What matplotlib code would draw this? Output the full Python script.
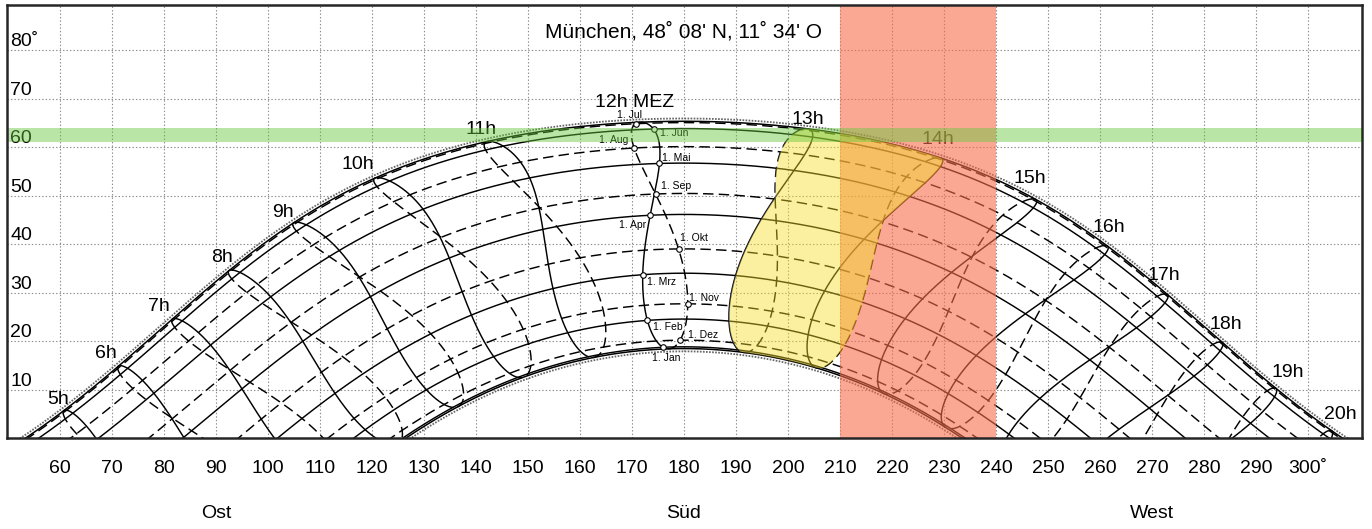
import numpy as np
import matplotlib
matplotlib.use("Agg")
import matplotlib.pyplot as plt

plt.rcParams["font.family"] = ["Liberation Sans", "DejaVu Sans"]
plt.rcParams["lines.scale_dashes"] = False

# Standort (Muenchen) und Zeitzone MEZ
lat_deg = 48 + 8 / 60
lon_deg = 11 + 34 / 60
zone_meridian = 15.0

# 1. jedes Monats als Tag im Jahr
months = ["Jan", "Feb", "Mrz", "Apr", "Mai", "Jun", "Jul", "Aug", "Sep", "Okt", "Nov", "Dez"]
month_days = [1, 32, 60, 91, 121, 152, 182, 213, 244, 274, 305, 335]
solstice_days = [172, 355]          # 21. Jun, 21. Dez
hours = list(range(5, 21))          # Stundenlinien MEZ
noon_hour = 12

x_ticks = list(range(60, 301, 10))
y_ticks = list(range(10, 81, 10))
directions = ["Ost", "Süd", "West"]
direction_az = [90, 180, 270]

red_band = [210, 240]     # Azimut
green_band = [61, 64]     # Hoehe
yellow_hours = [13, 14]   # MEZ

title = "München, 48˚ 08' N, 11˚ 34' O"

# Beschriftung der Monatspunkte auf der 12h-Linie: (dx pt, dy pt, ha)
month_label_pos = {
    "Jan": (2, -8, "center"), "Feb": (4, -5, "left"), "Mrz": (3, -5, "left"),
    "Apr": (-3, -7, "right"), "Mai": (2, 4, "left"), "Jun": (5, -3, "left"),
    "Jul": (-4, 6, "center"), "Aug": (-4, 6, "right"), "Sep": (4, 6, "left"),
    "Okt": (1, 8, "left"), "Nov": (1, 4, "left"), "Dez": (6, 4, "left"),
}

# Feinkorrektur der Stundenbeschriftung (pt)
hour_label_shift = {
    5: (5, -5), 6: (1, -3), 7: (1, -3), 8: (5, -3), 9: (1, -6), 10: (-6, -5),
    11: (-1, -7), 12: (-4, -2), 13: (-2, -9), 14: (-7, -2), 15: (-12, 1),
    16: (-9, 1), 17: (-13, 2), 18: (-8, 1), 19: (-2, -1), 20: (-3, -1),
}

DASH = (0, (7.5, 3.8))


def sun_params(day):
    g = 2 * np.pi * (np.asarray(day, dtype=float) - 1) / 365
    decl = (0.006918 - 0.399912 * np.cos(g) + 0.070257 * np.sin(g)
            - 0.006758 * np.cos(2 * g) + 0.000907 * np.sin(2 * g)
            - 0.002697 * np.cos(3 * g) + 0.00148 * np.sin(3 * g))
    eot = 229.18 * (0.000075 + 0.001868 * np.cos(g) - 0.032077 * np.sin(g)
                    - 0.014615 * np.cos(2 * g) - 0.040849 * np.sin(2 * g))
    return decl, eot


def solar_time(mez, eot):
    return mez + (lon_deg - zone_meridian) / 15 + eot / 60


def sun_pos(decl, t_solar):
    phi = np.radians(lat_deg)
    H = np.radians(15 * (t_solar - 12))
    alt = np.arcsin(np.sin(phi) * np.sin(decl) + np.cos(phi) * np.cos(decl) * np.cos(H))
    az = np.degrees(np.arctan2(np.sin(H), np.cos(H) * np.sin(phi) - np.tan(decl) * np.cos(phi))) + 180
    return az, np.degrees(alt)


def day_path(day, t):
    decl, eot = sun_params(day)
    return sun_pos(decl, solar_time(t, eot))


fig = plt.figure(figsize=(13.72, 5.29), dpi=100)
ax = fig.add_axes([7 / 1372, 91 / 529, 1355 / 1372, 433 / 529])
ax.set_xlim(49.8, 310.4)
ax.set_ylim(0, 89.3)


def normal_offset(az, alt, px):
    pts = ax.transData.transform(np.column_stack([az, alt]))
    d = np.gradient(pts, axis=0)
    n = np.column_stack([-d[:, 1], d[:, 0]])
    n /= np.hypot(n[:, 0], n[:, 1])[:, None]
    return ax.transData.inverted().transform(pts + n * px).T


# Tagesbahnen
t = np.linspace(2, 22, 900)
for d in month_days:
    az, alt = day_path(d, t)
    ls = "-" if d < 182 else DASH
    ax.plot(az, alt, color="black", lw=1.05, ls=ls, zorder=3)

for d, side in zip(solstice_days, [1, -1]):
    az, alt = day_path(d, t)
    ax.plot(az, alt, color="black", lw=1.1, zorder=3)
    oaz, oalt = normal_offset(az, alt, 2.8 * side)
    ax.plot(oaz, oalt, color="0.4", lw=1.3, ls=(0, (1.2, 1.0)), zorder=3)

# Stundenlinien (Analemma)
days = np.arange(1, 366.01, 0.25)
decl_y, eot_y = sun_params(days)
first_half = days <= 182
for h in hours:
    az, alt = sun_pos(decl_y, solar_time(h, eot_y))
    ax.plot(az[first_half], alt[first_half], color="black", lw=1.05, zorder=3)
    ax.plot(az[days >= 182], alt[days >= 182], color="black", lw=1.05, ls=DASH, zorder=3)

    # Beschriftung am 21. Juni, nach aussen versetzt
    taz, talt = day_path(solstice_days[0], np.array([h - 0.05, h, h + 0.05]))
    p = ax.transData.transform(np.column_stack([taz, talt]))
    tx, ty = p[2] - p[0]
    nrm = np.array([-ty, tx]) / np.hypot(tx, ty)
    sx, sy = hour_label_shift[h]
    label = f"{h}h MEZ" if h == noon_hour else f"{h}h"
    ax.annotate(label, (taz[1], talt[1]), xytext=(nrm[0] * 16 + sx, nrm[1] * 16 + sy),
                textcoords="offset points", ha="center", va="center",
                fontsize=14, zorder=4)

# Monatspunkte auf der 12h-Linie
for m, d in zip(months, month_days):
    az, alt = day_path(d, noon_hour)
    ax.plot(az, alt, "o", mfc="white", mec="black", ms=4, mew=0.8, zorder=4)
    dx, dy, ha = month_label_pos[m]
    ax.annotate(f"1. {m}", (az, alt), xytext=(dx, dy), textcoords="offset points",
                ha=ha, va="center", fontsize=7.5, zorder=4)

# Bereich 13h-14h ueber das ganze Jahr
d_lo = solstice_days[1]
d_hi = solstice_days[0]
rise = np.linspace(d_lo, d_hi + 365, 2000)
fall = np.linspace(d_hi, d_lo, 2000)
dec_r, eot_r = sun_params(rise)
dec_f, eot_f = sun_params(fall)
dg = np.linspace(max(dec_r.min(), dec_f.min()), min(dec_r.max(), dec_f.max()), 400)
o_r = np.argsort(dec_r)
o_f = np.argsort(dec_f)
e_r = np.interp(dg, dec_r[o_r], eot_r[o_r])
e_f = np.interp(dg, dec_f[o_f], eot_f[o_f])
t_left = solar_time(yellow_hours[0], np.minimum(e_r, e_f))
t_right = solar_time(yellow_hours[1], np.maximum(e_r, e_f))
l_az, l_alt = sun_pos(dg, t_left)
r_az, r_alt = sun_pos(dg, t_right)
top_t = np.linspace(t_left[-1], t_right[-1], 100)
bot_t = np.linspace(t_right[0], t_left[0], 100)
tp_az, tp_alt = sun_pos(np.full_like(top_t, dg[-1]), top_t)
bt_az, bt_alt = sun_pos(np.full_like(bot_t, dg[0]), bot_t)
poly_az = np.concatenate([l_az, tp_az, r_az[::-1], bt_az])
poly_alt = np.concatenate([l_alt, tp_alt, r_alt[::-1], bt_alt])

ax.axvspan(*red_band, color=(247 / 255, 110 / 255, 77 / 255), alpha=0.6, lw=0, zorder=5)
ax.fill(poly_az, poly_alt, color=(244 / 255, 221 / 255, 39 / 255), alpha=0.44, lw=0, zorder=6)
ax.axhspan(*green_band, color=(100 / 255, 200 / 255, 60 / 255), alpha=0.45, lw=0, zorder=7)

# Achsen, Gitter, Beschriftung
ax.set_xticks(x_ticks)
ax.set_xticklabels([str(v) if v < 300 else f"{v}˚" for v in x_ticks])
ax.set_yticks(y_ticks)
ax.set_yticklabels([])
ax.tick_params(axis="x", length=0, pad=15.5, labelsize=14)
ax.tick_params(axis="y", length=0)
ax.grid(True, ls=(0, (1, 1.5)), color="0.55", lw=0.8, zorder=0)
ax.set_axisbelow(True)
for s in ax.spines.values():
    s.set_linewidth(1.8)
    s.set_color("0.15")
    s.set_zorder(10)

for v in y_ticks:
    ax.text(50.4, v + 0.75, f"{v}˚" if v == 80 else str(v), ha="left", va="baseline",
            fontsize=14, zorder=4)

for name, a in zip(directions, direction_az):
    ax.annotate(name, (a, 0), xytext=(0, -54), textcoords="offset points",
                ha="center", va="center", fontsize=14, annotation_clip=False)

ax.text(180, 83.7, title, ha="center", va="center", fontsize=15, zorder=4)

fig.savefig("out.png", dpi=100)
